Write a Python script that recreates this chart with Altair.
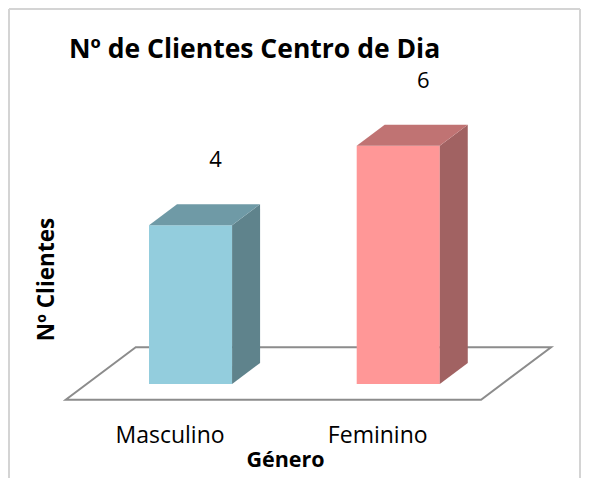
import json
import altair as alt
import pandas as pd

# ---- data ----
categories = ["Masculino", "Feminino"]
values = [4, 6]
title_text = "Nº de Clientes Centro de Dia"
x_title = "Género"
y_title = "Nº Clientes"

# ---- styles ----
front_colors = ["#93CDDD", "#FF9797"]
top_colors = ["#6F9AA6", "#C07373"]
side_colors = ["#5F838C", "#A16262"]
FONT = "Open Sans"

df = pd.DataFrame({"cat": categories, "idx": list(range(len(categories))), "value": values})
floor_df = pd.DataFrame({"d": [-0.75, 1.75]})

W, H = 573, 470
X_DOMAIN = [-0.879, 1.880]
Y_DOMAIN = [-2.368, 9.471]
HALF = 0.2      # half of the bar's front width (band units)
DX = 0.1348     # depth offset in x (band units)
DY = 0.529      # depth offset in y (value units)
N = len(categories)

xs = alt.Scale(domain=X_DOMAIN, nice=False, zero=False)
ys = alt.Scale(domain=Y_DOMAIN, nice=False, zero=False)

x_axis = alt.Axis(
    values=list(range(N)),
    labelExpr=f"{json.dumps(categories)}[datum.value]",
    title=x_title, domain=False, ticks=False, grid=False,
    offset=-78, labelOffset=-21, labelPadding=42, labelBaseline="alphabetic",
    labelFont=FONT, labelFontSize=23, labelColor="#000000",
    labelFlush=False, labelOverlap=False,
    titleFont=FONT, titleFontSize=21.5, titleFontWeight="bold", titleColor="#000000",
    titleX=277, titleY=66, titleAlign="center", titleBaseline="alphabetic",
)
y_axis = alt.Axis(
    title=y_title, domain=False, ticks=False, grid=False, labels=False,
    titleFont=FONT, titleFontSize=22.5, titleFontWeight="bold", titleColor="#000000",
    titleX=38, titleY=271, titleAngle=270, titleAlign="center", titleBaseline="middle",
)

def X(f):
    return alt.X(f, scale=xs, axis=x_axis, stack=None)

def Y(f):
    return alt.Y(f, scale=ys, axis=y_axis, stack=None)

def col(rng):
    return alt.Color("cat:N", scale=alt.Scale(domain=categories, range=rng), legend=None)

# floor (base plane)
floor = alt.Chart(floor_df).transform_calculate(
    xa=f"-0.5 + datum.d * {DX}",
    xb=f"{N - 0.5} + datum.d * {DX}",
    ya=f"datum.d * {DY}",
).mark_area(orient="horizontal", fill="white", stroke="#8C8C8C", strokeWidth=2, strokeJoin="miter").encode(
    y=Y("ya:Q"), x=X("xa:Q"), x2="xb:Q"
)

# front faces
front = alt.Chart(df).transform_calculate(
    xa=f"datum.idx - {HALF}", xb=f"datum.idx + {HALF}", ya="0", yb="datum.value"
).mark_rect().encode(
    x=X("xa:Q"), x2="xb:Q", y=Y("ya:Q"), y2="yb:Q", color=col(front_colors)
)

# side faces
side = alt.Chart(df).transform_calculate(p0="0", p1="1").transform_fold(
    ["p0", "p1"], as_=["pt", "k"]
).transform_calculate(
    xa=f"datum.idx + {HALF} + datum.k * {DX}",
    ya=f"datum.value + datum.k * {DY}",
    yb=f"datum.k * {DY}",
).mark_area(orient="vertical").encode(
    x=X("xa:Q"), y=Y("ya:Q"), y2="yb:Q", color=col(side_colors), detail="cat:N"
)

# top faces
top = alt.Chart(df).transform_calculate(p0="0", p1="1").transform_fold(
    ["p0", "p1"], as_=["pt", "k"]
).transform_calculate(
    xa=f"datum.idx - {HALF} + datum.k * {DX}",
    xb=f"datum.idx + {HALF} + datum.k * {DX}",
    ya=f"datum.value + datum.k * {DY}",
).mark_area(orient="horizontal").encode(
    y=Y("ya:Q"), x=X("xa:Q"), x2="xb:Q", color=col(top_colors), detail="cat:N"
)

# value labels
labels = alt.Chart(df).mark_text(
    dx=25, dy=-65, font=FONT, fontSize=22, color="#000000", baseline="middle"
).encode(x=X("idx:Q"), y=Y("value:Q"), text="value:Q")

# frame (decoration)
frame_color = "#D4D4D4"
fr_left = alt.Chart(df).mark_rule(color=frame_color, strokeWidth=2).encode(
    x=alt.value(1), y=alt.value(1), y2=alt.value(H))
fr_top = alt.Chart(df).mark_rule(color=frame_color, strokeWidth=2).encode(
    x=alt.value(1), x2=alt.value(W - 1), y=alt.value(1))
fr_right = alt.Chart(df).mark_rule(color=frame_color, strokeWidth=2).encode(
    x=alt.value(W - 1), y=alt.value(1), y2=alt.value(H))

chart = alt.layer(floor, front, side, top, labels, fr_left, fr_top, fr_right).resolve_scale(
    color="independent"
).properties(
    width=W, height=H,
    autosize=alt.AutoSizeParams(type="none"),
    padding=0,
    background="white",
    title=alt.TitleParams(
        text=title_text, font=FONT, fontSize=26.5, fontWeight="bold", color="#000000",
        anchor="start", frame="group", orient="top", offset=0, dx=61, dy=76,
        baseline="alphabetic",
    ),
).configure_view(stroke=None)

chart.save("out.html", embed_options={"renderer": "svg", "actions": False})
